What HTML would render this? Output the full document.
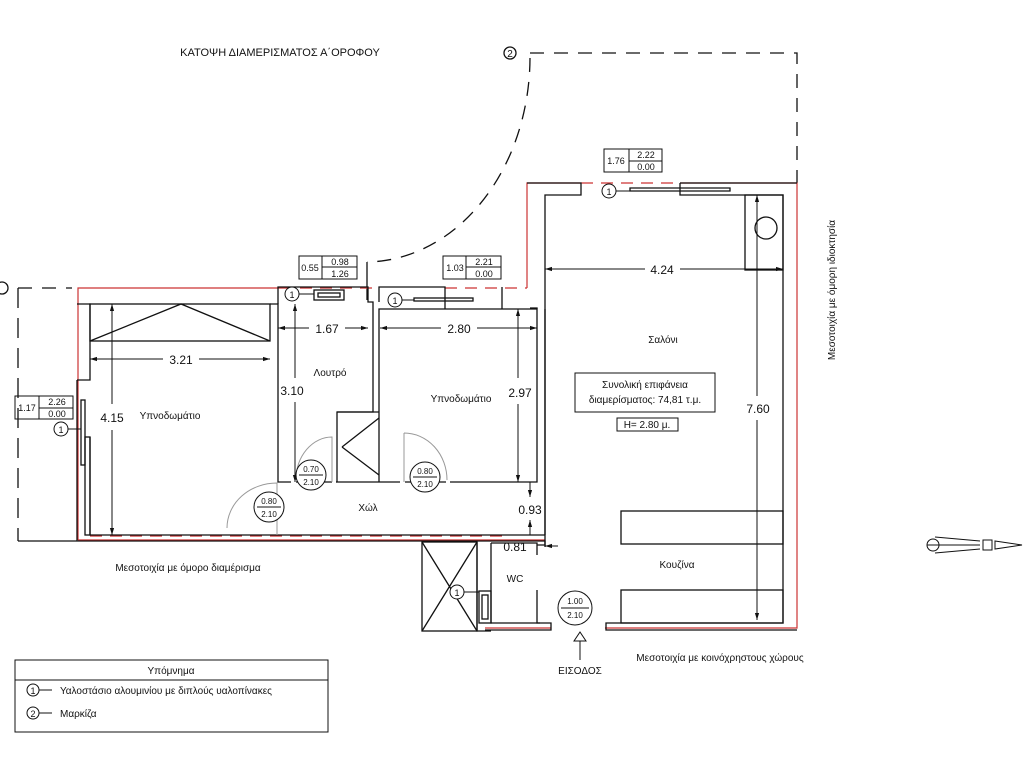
<!DOCTYPE html>
<html><head><meta charset="utf-8"><style>
html,body{margin:0;padding:0;background:#fff}
svg{display:block}
text{font-family:"Liberation Sans",sans-serif;fill:#111}
</style></head><body>
<svg width="1024" height="768" viewBox="0 0 1024 768" xmlns="http://www.w3.org/2000/svg">
<defs>
<marker id="a" viewBox="0 0 10 10" refX="10" refY="5" markerWidth="7" markerHeight="7" orient="auto-start-reverse"><path d="M0,2 L10,5 L0,8z" fill="#111"/></marker>
</defs>
<text x="280" y="56" font-size="11" text-anchor="middle">ΚΑΤΟΨΗ ΔΙΑΜΕΡΙΣΜΑΤΟΣ Α΄ΟΡΟΦΟΥ</text>

<g fill="none" stroke="#111" stroke-width="1.3">
<path d="M530,53 H797 V183" stroke-dasharray="14,10"/>
<path d="M530,58 A165 205 0 0 1 367,262" stroke-dasharray="14,10"/>
<path d="M367,262 L367,300" />
<path d="M18,288 H72" stroke-dasharray="14,10"/>
<path d="M18,288 V541" stroke-dasharray="20,10"/>
<circle cx="510" cy="53" r="6"/><circle cx="2" cy="288" r="6"/>
</g>
<text x="510" y="57" font-size="10" text-anchor="middle">2</text>

<!-- red property line -->
<g fill="none" stroke="#c33" stroke-width="1.2">
<path d="M78,540 V288 H280"/>
<path d="M527,288 V183 H581 M680,183 H797 V628 H605"/>
<path d="M551,628 H485"/>
<path d="M78,540 H545"/>
</g>
<g fill="none" stroke="#c33" stroke-width="1.2" stroke-dasharray="12,8">
<path d="M90,536 H505"/><path d="M581,183 H680"/><path d="M445,288 H527"/><path d="M280,288 H380"/>
</g>

<g fill="none" stroke="#111" stroke-width="1.3">
<!-- left bedroom -->
<path d="M77,304 H90 V380 H77"/>
<rect x="90" y="304" width="180" height="37"/>
<path d="M90,341 L181,304 L270,341"/>
<path d="M90,437 V535 H545"/>
<path d="M18,541 H545 V547"/>
<path d="M77,380 V541"/>
<rect x="81" y="400" width="4" height="65"/>
<rect x="85" y="437" width="5" height="98"/>
<!-- bathroom -->
<path d="M270,304 H278 V482 H291 M296,482 H332 M336,482 H337"/>
<path d="M278,304 V287 H368 V302 H373 V412 H337 V482 H379"/>
<rect x="314" y="290" width="30" height="10"/><rect x="318" y="293" width="22" height="4"/>
<path d="M337,412 H379 M342,447 L379,418 M342,447 L379,475"/>
<!-- bedroom 2 -->
<path d="M379,482 V309 H380 M379,302 V287 H445 V309 H380 M379,482 H400 M405,482 H446 M450,482 H537 V309 H445"/>
<path d="M502,287 V309 M537,309 V308 H530 M545,309 V535"/>
<rect x="414" y="298" width="59" height="3"/>
<!-- salon -->
<path d="M527,183 H581 V195 H545 V545 H537"/>
<path d="M680,183 V195 H783 V623 H606 V630 H797 M680,183 H797"/>
<path d="M630,188 H730 V191 H630z"/>
<rect x="745" y="195" width="38" height="75"/>
<circle cx="766" cy="228" r="11"/>
<rect x="621" y="511" width="162" height="33"/>
<rect x="621" y="590" width="162" height="33"/>
<!-- WC & shaft -->
<path d="M491,543 V623 H551 V630 H485"/>
<path d="M491,543 H537 V555 M537,590 V623 H540"/>
<rect x="422" y="542" width="55" height="89"/>
<path d="M422,542 L477,631 M477,542 L422,631"/>
<rect x="479" y="591" width="12" height="32"/><rect x="482" y="595" width="6" height="24"/>
<path d="M477,542 V631 H491"/>
</g>

<!-- door arcs -->
<g fill="none" stroke="#999" stroke-width="1">
<path d="M227,528 A50 45 0 0 1 277,483 V535"/>
<path d="M296,480 A36 43 0 0 1 332,437 V482"/>
<path d="M404,433 A43 47 0 0 1 447,480 M404,433 V482"/>
</g>

<!-- dimensions -->
<g stroke="#111" stroke-width="1" fill="none">
<path d="M90,359 H163 M199,359 H270" marker-start="url(#a)" marker-end="url(#a)"/>
<path d="M112,304 V404 M112,430 V535" marker-start="url(#a)" marker-end="url(#a)"/>
<path d="M278,328 H309 M345,328 H368" marker-start="url(#a)" marker-end="url(#a)"/>
<path d="M295,304 V378 M295,402 V482" marker-start="url(#a)" marker-end="url(#a)"/>
<path d="M380,328 H441 M477,328 H537" marker-start="url(#a)" marker-end="url(#a)"/>
<path d="M518,309 V378 M518,404 V482" marker-start="url(#a)" marker-end="url(#a)"/>
<path d="M530,482 V497" marker-end="url(#a)"/><path d="M530,535 V520" marker-end="url(#a)"/>
<path d="M545,269 H645 M680,269 H783" marker-start="url(#a)" marker-end="url(#a)"/>
<path d="M757,195 V396 M757,420 V620" marker-start="url(#a)" marker-end="url(#a)"/>
<path d="M545,546 H558" marker-start="url(#a)"/>
<path d="M580,660 V641 M574,641 H586 L580,632z"/>
</g>
<g font-size="12" text-anchor="middle">
<text x="181" y="364">3.21</text><text x="112" y="422">4.15</text>
<text x="327" y="333">1.67</text><text x="292" y="395">3.10</text>
<text x="459" y="333">2.80</text><text x="520" y="397">2.97</text>
<text x="530" y="514">0.93</text><text x="515" y="551">0.81</text>
<text x="662" y="274">4.24</text><text x="758" y="413">7.60</text>
</g>
<g font-size="10" text-anchor="middle">
<text x="663" y="343">Σαλόνι</text><text x="677" y="568">Κουζίνα</text>
<text x="515" y="582">WC</text><text x="368" y="511">Χώλ</text>
<text x="330" y="376">Λουτρό</text><text x="461" y="402">Υπνοδωμάτιο</text>
<text x="170" y="419">Υπνοδωμάτιο</text>
<text x="188" y="571">Μεσοτοιχία με όμορο διαμέρισμα</text>
<text x="720" y="661">Μεσοτοιχία με κοινόχρηστους χώρους</text>
<text x="580" y="674">ΕΙΣΟΔΟΣ</text>
<text transform="translate(835,290) rotate(-90)">Μεσοτοιχία με όμορη ιδιοκτησία</text>
</g>
<rect x="575" y="373" width="140" height="39" fill="none" stroke="#111"/>
<text x="645" y="388" font-size="10" text-anchor="middle">Συνολική επιφάνεια</text>
<text x="645" y="403" font-size="10" text-anchor="middle">διαμερίσματος: 74,81 τ.μ.</text>
<rect x="617" y="418" width="61" height="13" fill="none" stroke="#111"/>
<text x="647" y="428" font-size="10" text-anchor="middle">H= 2.80 μ.</text>

<!-- window tags -->
<g font-size="9" stroke="#111" fill="none" stroke-width="1">
<rect x="299" y="256" width="58" height="23"/><path d="M322,256 V279 M322,267 H357"/>
<rect x="443" y="256" width="58" height="23"/><path d="M466,256 V279 M466,267 H501"/>
<rect x="604" y="149" width="58" height="23"/><path d="M629,149 V172 M629,161 H662"/>
<rect x="15" y="396" width="58" height="23"/><path d="M39,396 V419 M39,408 H73"/>
<circle cx="292" cy="294" r="7" fill="#fff"/><path d="M299,294 H314"/>
<circle cx="395" cy="300" r="7" fill="#fff"/><path d="M402,300 H414"/>
<circle cx="609" cy="191" r="7"/><path d="M616,191 H630"/>
<circle cx="61" cy="429" r="7"/><path d="M68,429 H81"/>
<circle cx="457" cy="592" r="7" fill="#fff"/><path d="M464,592 H479"/>
<circle cx="311" cy="475" r="15" fill="#fff"/><path d="M299,475 H323"/>
<circle cx="269" cy="507" r="15" fill="#fff"/><path d="M257,507 H281"/>
<circle cx="425" cy="477" r="15" fill="#fff"/><path d="M413,477 H437"/>
<circle cx="575" cy="608" r="17" fill="#fff"/><path d="M561,608 H589"/>
</g>
<g font-size="9" text-anchor="middle">
<text x="310" y="271">0.55</text><text x="340" y="265">0.98</text><text x="340" y="277">1.26</text>
<text x="455" y="271">1.03</text><text x="484" y="265">2.21</text><text x="484" y="277">0.00</text>
<text x="616" y="164">1.76</text><text x="646" y="158">2.22</text><text x="646" y="170">0.00</text>
<text x="27" y="411">1.17</text><text x="57" y="405">2.26</text><text x="57" y="417">0.00</text>
<text x="292" y="298">1</text><text x="395" y="304">1</text><text x="609" y="195">1</text>
<text x="61" y="433">1</text><text x="457" y="596">1</text>
</g>
<g font-size="8" text-anchor="middle">
<text x="311" y="472">0.70</text><text x="311" y="485">2.10</text>
<text x="269" y="504">0.80</text><text x="269" y="517">2.10</text>
<text x="425" y="474">0.80</text><text x="425" y="487">2.10</text>
<text x="575" y="604">1.00</text><text x="575" y="618">2.10</text>
</g>

<!-- compass -->
<g fill="none" stroke="#111" stroke-width="1">
<circle cx="933" cy="545" r="6"/><path d="M927,545 H939"/>
<path d="M935,537 L980,541 M935,553 L980,549 M939,545 H980"/>
<rect x="983" y="540" width="9" height="10"/>
<path d="M995,541 L1022,545 L995,549z"/>
</g>

<!-- legend -->
<g fill="none" stroke="#111" stroke-width="1">
<rect x="15" y="660" width="313" height="72"/><path d="M15,680 H328"/>
<circle cx="33" cy="690" r="6"/><path d="M39,690 H52"/>
<circle cx="33" cy="713" r="6"/><path d="M39,713 H52"/>
</g>
<text x="171" y="674" font-size="10" text-anchor="middle">Υπόμνημα</text>
<text x="33" y="694" font-size="9" text-anchor="middle">1</text>
<text x="33" y="717" font-size="9" text-anchor="middle">2</text>
<text x="60" y="694" font-size="10">Υαλοστάσιο αλουμινίου με διπλούς υαλοπίνακες</text>
<text x="60" y="717" font-size="10">Μαρκίζα</text>
</svg>
</body></html>
